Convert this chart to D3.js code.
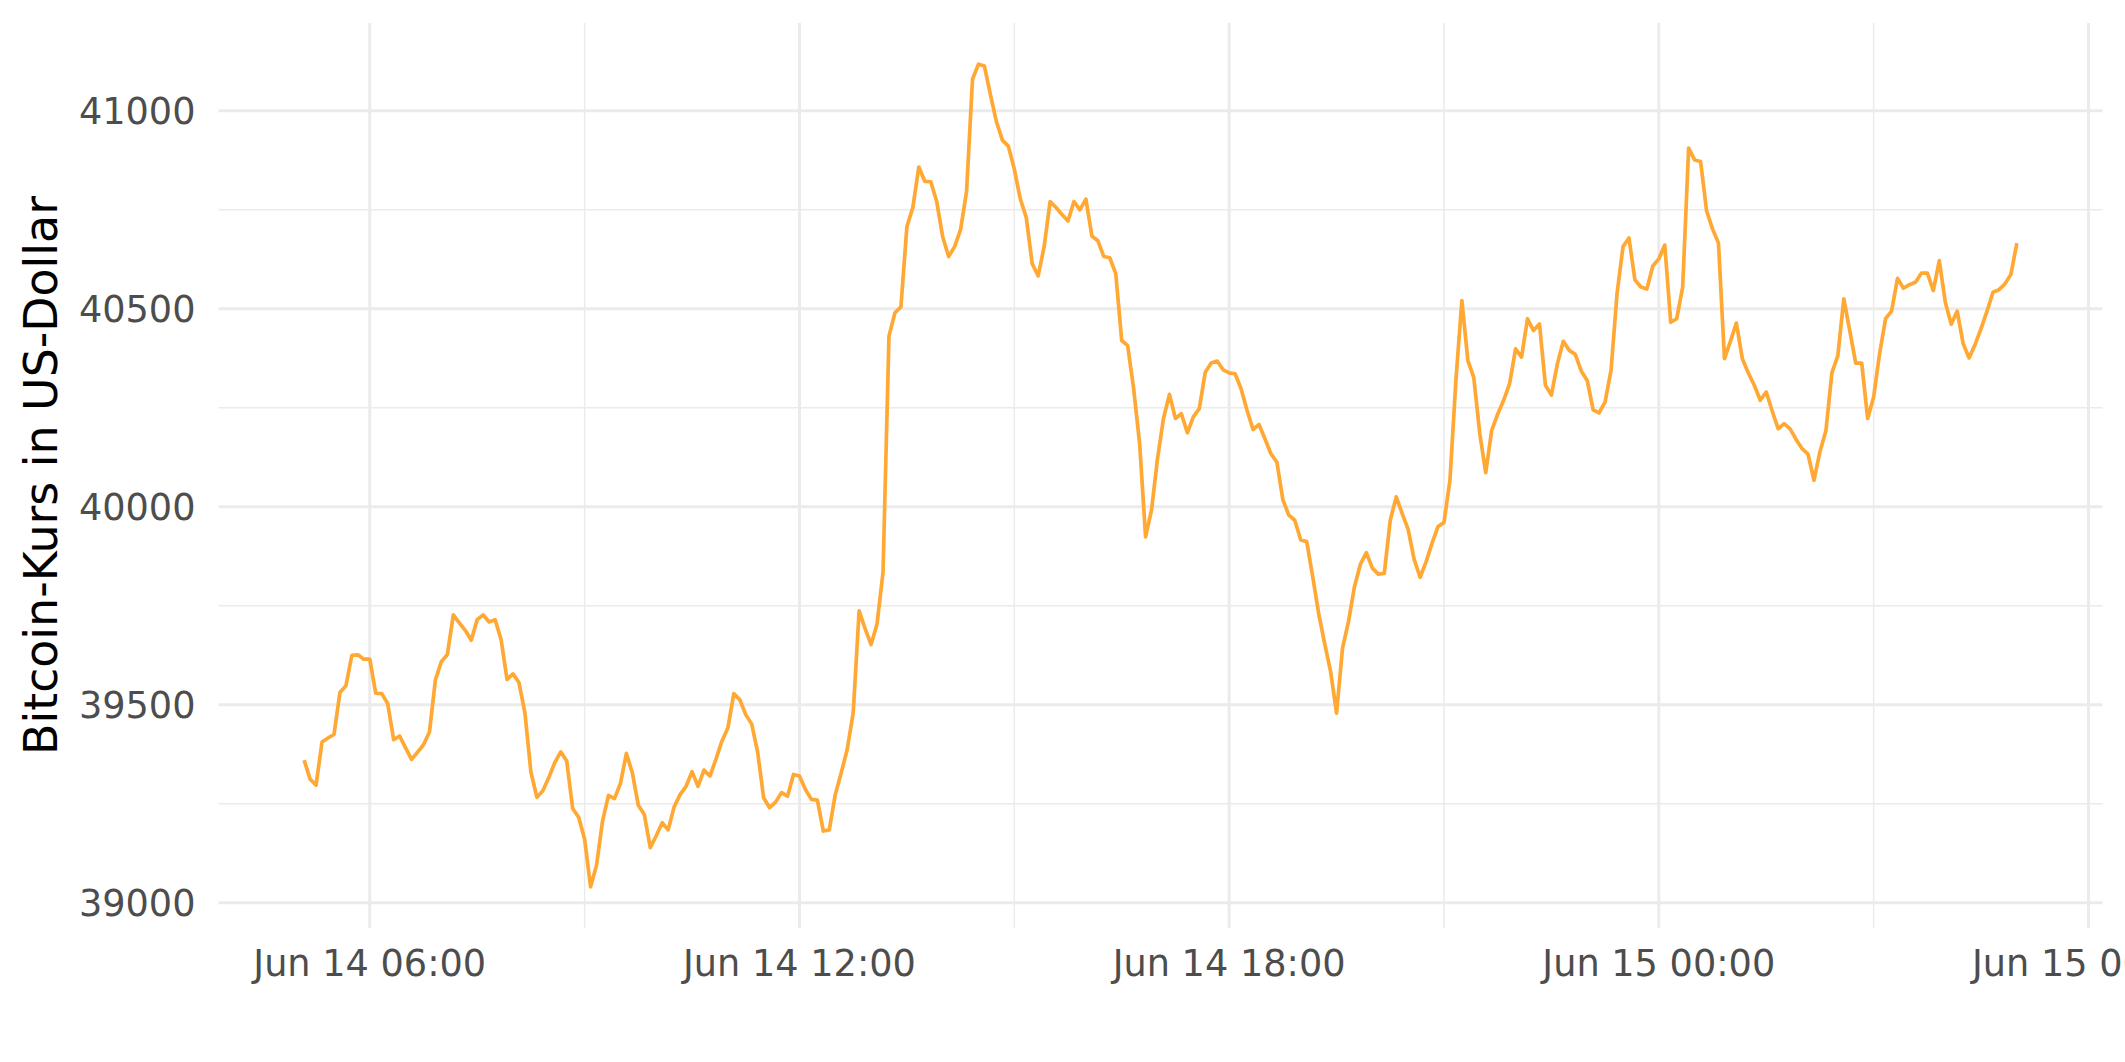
<!DOCTYPE html>
<html>
<head>
<meta charset="utf-8">
<script src="https://cdn.jsdelivr.net/npm/d3@7"></script>
<style>
  html, body { margin: 0; padding: 0; background: #ffffff; }
  svg { display: block; }
</style>
</head>
<body>
<svg id="chart" width="2125" height="1062"></svg>
<script>
// ---- data (Bitcoin price, 5-minute samples, Jun 14 05:05 -> Jun 15 05:00) ----
const startTime = new Date(2021, 5, 14, 5, 5);
const stepMinutes = 5;
const prices = [
  39360, 39312, 39297, 39406, 39416, 39425, 39531, 39548, 39625, 39626,
  39615, 39615, 39529, 39528, 39503, 39412, 39421, 39391, 39362, 39380,
  39399, 39431, 39563, 39609, 39627, 39727, 39707, 39688, 39663, 39715,
  39727, 39709, 39715, 39665, 39564, 39578, 39556, 39479, 39330, 39266,
  39283, 39316, 39354, 39381, 39358, 39238, 39216,
  39160, 39040, 39095, 39206, 39271, 39263, 39301, 39377, 39328, 39246,
  39223, 39139, 39169, 39202, 39184, 39242, 39273, 39294, 39331, 39294,
  39335, 39320, 39362, 39408, 39441, 39528, 39513, 39475, 39451, 39380,
  39265, 39240, 39254, 39278, 39269, 39324, 39320, 39286, 39261, 39259,
  39181, 39184, 39273, 39328, 39387, 39479, 39737,
  39692, 39652, 39704, 39834, 40431, 40490, 40505, 40707, 40756, 40858,
  40822, 40821, 40771, 40682, 40632, 40657, 40700, 40796, 41080, 41118,
  41113, 41041, 40973, 40926, 40911, 40853, 40778, 40731, 40614, 40583,
  40657, 40771, 40756, 40738, 40722, 40771, 40750, 40777, 40684, 40672,
  40632, 40629, 40589, 40420, 40407, 40298, 40160, 39924,
  39992, 40122, 40223, 40284, 40223, 40235, 40187, 40227, 40248, 40340,
  40363, 40368, 40346, 40338, 40336, 40298, 40244, 40195, 40208, 40172,
  40134, 40113, 40018, 39979, 39966, 39916, 39912, 39824, 39731, 39655,
  39584, 39479, 39643, 39710, 39798, 39855, 39884, 39845, 39830, 39832,
  39966, 40025, 39983, 39943, 39867, 39822,
  39861, 39908, 39950, 39960, 40067, 40319, 40521, 40370, 40326, 40185,
  40086, 40193, 40234, 40269, 40311, 40399, 40378, 40475, 40445, 40462,
  40307, 40282, 40361, 40418, 40395, 40385, 40343, 40319, 40245, 40237,
  40265, 40345, 40538, 40657, 40679, 40573, 40555, 40550, 40608, 40626,
  40661, 40466, 40475, 40555, 40906, 40876, 40872,
  40748, 40702, 40666, 40374, 40418, 40464, 40374, 40338, 40307, 40269,
  40290, 40242, 40197, 40210, 40197, 40170, 40147, 40133, 40067, 40139,
  40192, 40338, 40382, 40525, 40445, 40363, 40363, 40223, 40277, 40387,
  40475, 40494, 40577, 40552, 40561, 40567, 40590, 40590, 40546, 40622,
  40517, 40461, 40494, 40412, 40376, 40410, 40450, 40494, 40542, 40548,
  40563, 40587, 40666
];
const yMajorTicks = [39000, 39500, 40000, 40500, 41000];
const yMinorTicks = [39250, 39750, 40250, 40750];
const xMajorTickLabels = ["Jun 14 06:00", "Jun 14 12:00", "Jun 14 18:00", "Jun 15 00:00", "Jun 15 06:00"];
const yTitle = "Bitcoin-Kurs in US-Dollar";

// ---- build rows ----
const data = prices.map((p, i) => ({
  t: d3.timeMinute.offset(startTime, i * stepMinutes),
  v: p
}));

// ---- layout ----
const W = 2125, H = 1062;
const panel = { left: 218.5, right: 2102.5, top: 23, bottom: 928 };
const lineColor = "#FFA833";
const gridColor = "#EBEBEB";

// ggplot-like 5% expansion
const tExt = d3.extent(data, d => d.t);
const tSpan = tExt[1] - tExt[0];
const vExt = d3.extent(data, d => d.v);
const vSpan = vExt[1] - vExt[0];

const x = d3.scaleTime()
  .domain([new Date(+tExt[0] - 0.05 * tSpan), new Date(+tExt[1] + 0.05 * tSpan)])
  .range([panel.left, panel.right]);
const y = d3.scaleLinear()
  .domain([vExt[0] - 0.05 * vSpan, vExt[1] + 0.05 * vSpan])
  .range([panel.bottom, panel.top]);

const svg = d3.select("#chart");
svg.append("rect").attr("width", W).attr("height", H).attr("fill", "#ffffff");

// ---- grid ----
const xMajor = d3.timeHour.every(6).range(x.domain()[0], x.domain()[1]);
const xMinor = d3.timeHour.every(3).range(x.domain()[0], x.domain()[1])
  .filter(d => d.getHours() % 6 === 3);

const grid = svg.append("g");
grid.selectAll("line.ymin").data(yMinorTicks).join("line")
  .attr("x1", panel.left).attr("x2", panel.right)
  .attr("y1", d => y(d)).attr("y2", d => y(d))
  .attr("stroke", gridColor).attr("stroke-width", 1.5);
grid.selectAll("line.xmin").data(xMinor).join("line")
  .attr("y1", panel.top).attr("y2", panel.bottom)
  .attr("x1", d => x(d)).attr("x2", d => x(d))
  .attr("stroke", gridColor).attr("stroke-width", 1.5);
grid.selectAll("line.ymaj").data(yMajorTicks).join("line")
  .attr("x1", panel.left).attr("x2", panel.right)
  .attr("y1", d => y(d)).attr("y2", d => y(d))
  .attr("stroke", gridColor).attr("stroke-width", 3);
grid.selectAll("line.xmaj").data(xMajor).join("line")
  .attr("y1", panel.top).attr("y2", panel.bottom)
  .attr("x1", d => x(d)).attr("x2", d => x(d))
  .attr("stroke", gridColor).attr("stroke-width", 3);

// ---- line ----
const line = d3.line().x(d => x(d.t)).y(d => y(d.v));
svg.append("path")
  .datum(data)
  .attr("d", line)
  .attr("fill", "none")
  .attr("stroke", lineColor)
  .attr("stroke-width", 3.7)
  .attr("stroke-linejoin", "round")
  .attr("stroke-linecap", "butt");

// ---- axes text ----
const font = "'DejaVu Sans', sans-serif";
svg.append("g").selectAll("text").data(yMajorTicks).join("text")
  .attr("x", panel.left - 23)
  .attr("y", d => y(d))
  .attr("dy", "0.36em")
  .attr("text-anchor", "end")
  .attr("font-family", font)
  .attr("font-size", 36.67)
  .attr("fill", "#4D4D4D")
  .text(d => d);

svg.append("g").selectAll("text").data(xMajor).join("text")
  .attr("x", d => x(d))
  .attr("y", 976)
  .attr("text-anchor", "middle")
  .attr("font-family", font)
  .attr("font-size", 36.67)
  .attr("fill", "#4D4D4D")
  .text((d, i) => xMajorTickLabels[i]);

svg.append("text")
  .attr("transform", `translate(57,${(panel.top + panel.bottom) / 2}) rotate(-90)`)
  .attr("text-anchor", "middle")
  .attr("font-family", font)
  .attr("font-size", 45.83)
  .attr("fill", "#000000")
  .text(yTitle);
</script>
</body>
</html>
